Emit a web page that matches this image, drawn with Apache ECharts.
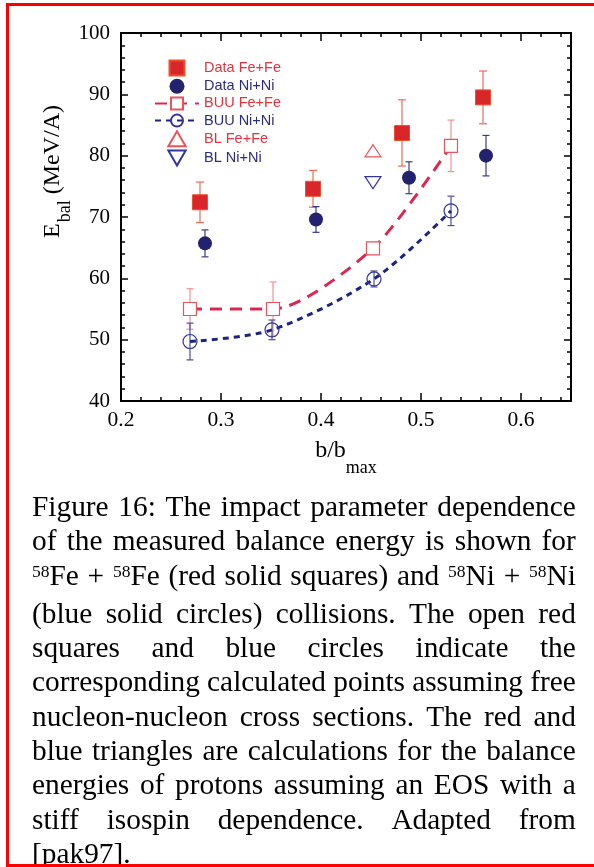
<!DOCTYPE html>
<html><head><meta charset="utf-8">
<script src="https://cdn.jsdelivr.net/npm/echarts/dist/echarts.min.js"></script>
<style>
html,body{margin:0;padding:0;background:#fff;}
#wrap{position:relative;width:594px;height:867px;overflow:hidden;background:#fff;}
#chart{position:absolute;left:0;top:0;width:594px;height:867px;}
#frame{position:absolute;left:6px;top:3px;width:600px;height:858px;border:3px solid #ff0000;pointer-events:none;}
#caption{position:absolute;left:32px;top:490px;width:528px;transform:scaleX(1.03);transform-origin:0 0;font-family:'Liberation Serif','Times New Roman',serif;font-size:28.5px;line-height:34.3px;color:#000;}
#caption .ln{display:flex;justify-content:space-between;white-space:nowrap;}
#caption .last{display:block;white-space:nowrap;}
.sup{position:relative;top:-0.45em;font-size:17px;}
</style></head>
<body>
<div id="wrap">
<div id="chart"></div>
<div id="caption"></div>
<div id="frame"></div>
</div>
<script>
// ---- data ----
const dataFeX = [0.279, 0.392, 0.481, 0.562];
const dataFeY = [72.4, 74.6, 83.7, 89.5];
const dataFeErr = [3.3, 3.0, 5.4, 4.3];
const dataNiX = [0.284, 0.395, 0.488, 0.565];
const dataNiY = [65.7, 69.6, 76.4, 80.0];
const dataNiErr = [2.2, 2.1, 2.6, 3.3];
const buuFeX = [0.269, 0.352, 0.452, 0.530];
const buuFeY = [55.0, 55.0, 64.9, 81.6];
const buuFeErr = [3.3, 4.4, 1.0, 4.2];
const buuNiX = [0.269, 0.351, 0.453, 0.530];
const buuNiY = [49.7, 51.6, 59.9, 71.0];
const buuNiErr = [3.0, 1.6, 1.3, 2.4];
const blFeX = [0.452];
const blFeY = [80.8];
const blNiX = [0.452];
const blNiY = [75.6];
const seriesNames = ['Data Fe+Fe', 'Data Ni+Ni', 'BUU Fe+Fe', 'BUU Ni+Ni', 'BL Fe+Fe', 'BL Ni+Ni'];
const xRange = [0.2, 0.65];
const yRange = [40, 100];

const captionLines = [
  'Figure 16: The impact parameter dependence',
  'of the measured balance energy is shown for',
  '^58Fe + ^58Fe (red solid squares) and ^58Ni + ^58Ni',
  '(blue solid circles) collisions. The open red',
  'squares and blue circles indicate the',
  'corresponding calculated points assuming free',
  'nucleon-nucleon cross sections. The red and',
  'blue triangles are calculations for the balance',
  'energies of protons assuming an EOS with a',
  'stiff isospin dependence. Adapted from',
  '[pak97].'
];

// ---- caption ----
(function(){
  const cap = document.getElementById('caption');
  const fmt = w => w.replace(/\^(\d+)/g, '<span class="sup">$1</span>');
  captionLines.forEach((line, i) => {
    const d = document.createElement('div');
    if (i === captionLines.length - 1) {
      d.className = 'last';
      d.innerHTML = fmt(line);
    } else {
      d.className = 'ln';
      d.innerHTML = line.split(' ').map(w => '<span>' + fmt(w) + '</span>').join('');
    }
    cap.appendChild(d);
  });
})();

// ---- colours ----
const RED_FILL = '#d8262a', RED_EDGE = '#ee4f2c', RED_ERR = '#f06a55';
const RED_LINE = '#dc2750', RED_OPEN = '#e9545a', RED_BUU_ERR = '#f29090';
const NAVY = '#22226f', NAVY_ERR = '#3a3a8a';
const NAVY_LINE = '#1d2380', NAVY_OPEN = '#34349a', NAVY_BUU_ERR = '#4d4da0';
const TXT_RED = '#e2343c', TXT_NAVY = '#2c2c80';
const SERIF = "'Liberation Serif','Times New Roman',serif";
const SANS = "'Liberation Sans',Arial,sans-serif";

const SQ = 'path://M0,0L10,0L10,10L0,10Z';
const TRI_UP = 'path://M5,0L10,8.66L0,8.66Z';
const TRI_DN = 'path://M0,0L10,0L5,8.66Z';

function zip(xs, ys, es) { return xs.map((x, i) => es ? [x, ys[i], es[i]] : [x, ys[i]]); }

function errSeries(name, xs, ys, es, color, cap) {
  return {
    name: name, type: 'custom', xAxisIndex: 0, yAxisIndex: 0, z: 1,
    data: zip(xs, ys, es),
    encode: { x: 0, y: 1 },
    silent: true,
    renderItem: function(params, api) {
      const x = api.value(0), y = api.value(1), e = api.value(2);
      const t = api.coord([x, y + e]), b = api.coord([x, y - e]);
      const st = { stroke: color, lineWidth: 1.2 };
      return { type: 'group', children: [
        { type: 'line', shape: { x1: t[0], y1: t[1], x2: b[0], y2: b[1] }, style: st },
        { type: 'line', shape: { x1: t[0] - cap, y1: t[1], x2: t[0] + cap, y2: t[1] }, style: st },
        { type: 'line', shape: { x1: b[0] - cap, y1: b[1], x2: b[0] + cap, y2: b[1] }, style: st }
      ]};
    }
  };
}

const gridRect = { left: 121, top: 33, right: 23, bottom: 466, containLabel: false, outerBoundsMode: 'none' };
const tickStyle = { color: '#000', width: 1.5 };

const chart = echarts.init(document.getElementById('chart'), null, { renderer: 'canvas' });
chart.setOption({
  animation: false,
  backgroundColor: 'transparent',
  grid: [Object.assign({}, gridRect), Object.assign({}, gridRect)],
  xAxis: [
    { type: 'value', gridIndex: 0, position: 'bottom', min: xRange[0], max: xRange[1], interval: 0.1,
      axisLine: { show: true, onZero: false, lineStyle: { color: '#000', width: 2 } },
      axisTick: { show: true, inside: true, length: 8, lineStyle: tickStyle },
      axisLabel: { show: true, margin: 8, fontFamily: SERIF, fontSize: 21.5, color: '#000', showMaxLabel: false },
      splitLine: { show: false } },
    { type: 'value', gridIndex: 0, position: 'top', min: xRange[0], max: xRange[1], interval: 0.1,
      axisLine: { show: true, onZero: false, lineStyle: { color: '#000', width: 2 } },
      axisTick: { show: true, inside: true, length: 8, lineStyle: tickStyle },
      axisLabel: { show: false }, splitLine: { show: false } },
    { type: 'value', gridIndex: 1, position: 'bottom', min: xRange[0], max: xRange[1], interval: 0.02,
      axisLine: { show: false, onZero: false },
      axisTick: { show: true, inside: true, length: 4, lineStyle: tickStyle },
      axisLabel: { show: false }, splitLine: { show: false } },
    { type: 'value', gridIndex: 1, position: 'top', min: xRange[0], max: xRange[1], interval: 0.02,
      axisLine: { show: false, onZero: false },
      axisTick: { show: true, inside: true, length: 4, lineStyle: tickStyle },
      axisLabel: { show: false }, splitLine: { show: false } }
  ],
  yAxis: [
    { type: 'value', gridIndex: 0, position: 'left', min: yRange[0], max: yRange[1], interval: 10,
      axisLine: { show: true, onZero: false, lineStyle: { color: '#000', width: 2 } },
      axisTick: { show: true, inside: true, length: 7, lineStyle: tickStyle },
      minorTick: { show: true, splitNumber: 5, length: 4, lineStyle: tickStyle },
      axisLabel: { show: true, margin: 11, fontFamily: SERIF, fontSize: 21, color: '#000' },
      splitLine: { show: false }, minorSplitLine: { show: false } },
    { type: 'value', gridIndex: 0, position: 'right', min: yRange[0], max: yRange[1], interval: 10,
      axisLine: { show: true, onZero: false, lineStyle: { color: '#000', width: 2 } },
      axisTick: { show: true, inside: true, length: 7, lineStyle: tickStyle },
      minorTick: { show: true, splitNumber: 5, length: 4, lineStyle: tickStyle },
      axisLabel: { show: false }, splitLine: { show: false }, minorSplitLine: { show: false } },
    { type: 'value', gridIndex: 1, show: false, min: yRange[0], max: yRange[1] }
  ],
  legend: {
    orient: 'vertical', left: 154, top: 59.5, padding: 0,
    itemWidth: 44, itemHeight: 15, itemGap: 2.2, selectedMode: false,
    textStyle: { fontFamily: SANS, fontSize: 14.5, lineHeight: 15 },
    data: [
      { name: seriesNames[0], textStyle: { color: TXT_RED } },
      { name: seriesNames[1], textStyle: { color: TXT_NAVY } },
      { name: seriesNames[2], textStyle: { color: TXT_RED } },
      { name: seriesNames[3], textStyle: { color: TXT_NAVY } },
      { name: seriesNames[4], textStyle: { color: TXT_RED } },
      { name: seriesNames[5], textStyle: { color: TXT_NAVY } }
    ]
  },
  graphic: [
    { type: 'text', x: 52.5, y: 171.5, rotation: Math.PI / 2, z: 10,
      style: { text: '{m|E}{s|bal}{m| (MeV/A)}', align: 'center', verticalAlign: 'middle',
        rich: {
          m: { fontFamily: SERIF, fontSize: 24, lineHeight: 24, verticalAlign: 'top', fill: '#000' },
          s: { fontFamily: SERIF, fontSize: 18, lineHeight: 18, verticalAlign: 'top', padding: [16, 0, 0, 1], fill: '#000' }
        } } },
    { type: 'text', x: 346, y: 439, z: 10,
      style: { text: '{m|b/b}{s|max}', align: 'center', verticalAlign: 'top',
        rich: {
          m: { fontFamily: SERIF, fontSize: 24, lineHeight: 24, verticalAlign: 'top', fill: '#000' },
          s: { fontFamily: SERIF, fontSize: 18, lineHeight: 18, verticalAlign: 'top', padding: [20, 0, 0, 0], fill: '#000' }
        } } }
  ],
  series: [
    errSeries('errBuuFe', buuFeX, buuFeY, buuFeErr, RED_BUU_ERR, 3.5),
    errSeries('errBuuNi', buuNiX, buuNiY, buuNiErr, NAVY_BUU_ERR, 3.5),
    errSeries('errDataFe', dataFeX, dataFeY, dataFeErr, RED_ERR, 4),
    errSeries('errDataNi', dataNiX, dataNiY, dataNiErr, NAVY_ERR, 3.5),
    { name: seriesNames[2], type: 'line', xAxisIndex: 0, yAxisIndex: 0, z: 2,
      data: zip(buuFeX, buuFeY), smooth: 0.25,
      symbol: SQ, symbolSize: 13, symbolKeepAspect: true, showSymbol: true,
      lineStyle: { color: RED_LINE, width: 3, type: [12, 8] },
      itemStyle: { color: '#ffffff', borderColor: RED_OPEN, borderWidth: 1.2 } },
    { name: seriesNames[3], type: 'line', xAxisIndex: 0, yAxisIndex: 0, z: 2,
      data: zip(buuNiX, buuNiY), smooth: 0.3,
      symbol: 'circle', symbolSize: 14, showSymbol: true,
      lineStyle: { color: NAVY_LINE, width: 3, type: [6, 5] },
      itemStyle: { color: 'rgba(255,255,255,0)', borderColor: NAVY_OPEN, borderWidth: 1.2 } },
    { name: seriesNames[0], type: 'scatter', xAxisIndex: 0, yAxisIndex: 0, z: 3,
      data: zip(dataFeX, dataFeY), symbol: SQ, symbolSize: 15, symbolKeepAspect: true,
      itemStyle: { color: RED_FILL, borderColor: RED_EDGE, borderWidth: 1, opacity: 1 } },
    { name: seriesNames[1], type: 'scatter', xAxisIndex: 0, yAxisIndex: 0, z: 3,
      data: zip(dataNiX, dataNiY), symbol: 'circle', symbolSize: 14,
      itemStyle: { color: NAVY, opacity: 1 } },
    { name: seriesNames[4], type: 'scatter', xAxisIndex: 0, yAxisIndex: 0, z: 3,
      data: zip(blFeX, blFeY), symbol: TRI_UP, symbolSize: [16, 14], symbolKeepAspect: true,
      itemStyle: { color: 'rgba(255,255,255,0)', borderColor: RED_OPEN, borderWidth: 1.2, opacity: 1 } },
    { name: seriesNames[5], type: 'scatter', xAxisIndex: 0, yAxisIndex: 0, z: 3,
      data: zip(blNiX, blNiY), symbol: TRI_DN, symbolSize: [16, 14], symbolKeepAspect: true,
      itemStyle: { color: 'rgba(255,255,255,0)', borderColor: NAVY_OPEN, borderWidth: 1.2, opacity: 1 } }
  ]
});
</script>
</body></html>
